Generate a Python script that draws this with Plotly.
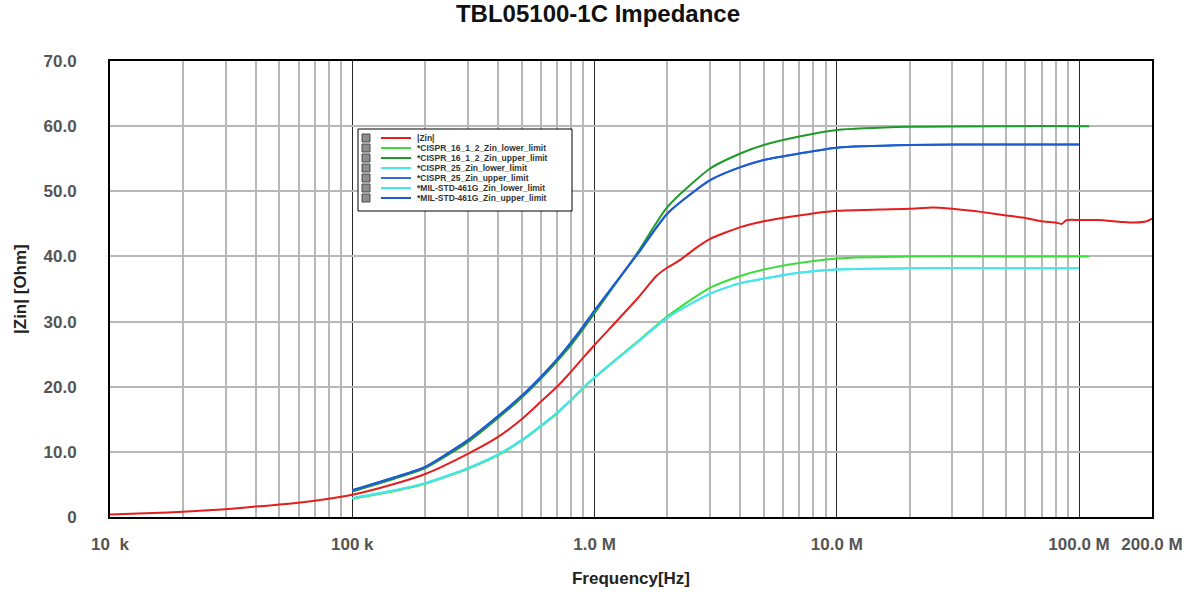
import plotly.graph_objects as go

# ---------------- data ----------------
freq_zin = [1e4, 1.5e4, 2e4, 3e4, 4e4, 5e4, 6e4, 7e4, 8e4, 9e4, 1e5, 1.5e5, 2e5, 3e5, 4e5,
            5e5, 6e5, 7e5, 8e5, 9e5, 1e6, 1.5e6, 1.8e6, 2e6, 2.2e6, 2.4e6, 2.6e6, 3e6, 4e6,
            5e6, 7e6, 1e7, 1.5e7, 2e7, 2.5e7, 3e7, 4e7, 5e7, 6e7, 7e7, 8e7, 8.5e7, 8.8e7,
            9e7, 1e8, 1.2e8, 1.5e8, 1.7e8, 1.9e8, 2e8]
zin = [0.4, 0.6, 0.8, 1.2, 1.6, 1.9, 2.2, 2.5, 2.8, 3.1, 3.4, 5.1, 6.6, 9.7, 12.3,
       15.0, 17.7, 20.0, 22.3, 24.5, 26.4, 33.5, 37.0, 38.3, 39.2, 40.2, 41.2, 42.7, 44.5,
       45.4, 46.3, 47.0, 47.2, 47.3, 47.5, 47.3, 46.8, 46.3, 45.9, 45.4, 45.2, 45.0, 45.5,
       45.6, 45.6, 45.6, 45.3, 45.2, 45.4, 45.8]

freq_cispr16 = [1e5, 1.5e5, 2e5, 3e5, 4e5, 5e5, 6e5, 7e5, 8e5, 9e5, 1e6, 1.5e6, 2e6, 3e6,
                4e6, 5e6, 7e6, 1e7, 2e7, 5e7, 1e8, 1.1e8]
cispr16_lower = [2.8, 4.0, 5.1, 7.4, 9.5, 11.7, 13.9, 15.9, 17.9, 19.8, 21.4, 26.9, 30.8, 35.2,
                 37.0, 38.0, 39.0, 39.7, 40.0, 40.0, 40.0, 40.0]
cispr16_upper = [3.9, 5.9, 7.5, 11.5, 15.2, 18.3, 21.2, 23.9, 26.4, 28.9, 31.3, 40.5, 47.6, 53.5,
                 55.8, 57.1, 58.4, 59.4, 59.9, 60.0, 60.0, 60.0]

freq_cispr25 = [1e5, 1.5e5, 2e5, 3e5, 4e5, 5e5, 6e5, 7e5, 8e5, 9e5, 1e6, 1.5e6, 2e6, 3e6,
                4e6, 5e6, 7e6, 1e7, 2e7, 5e7, 1e8]
cispr25_lower = [2.9, 4.1, 5.2, 7.5, 9.6, 11.8, 14.0, 16.0, 18.0, 19.9, 21.4, 26.8, 30.6, 34.3,
                 35.9, 36.6, 37.5, 38.0, 38.2, 38.2, 38.2]
cispr25_upper = [4.1, 6.1, 7.7, 11.8, 15.5, 18.6, 21.5, 24.2, 26.8, 29.3, 31.7, 40.3, 46.6, 51.7,
                 53.7, 54.8, 55.8, 56.7, 57.1, 57.2, 57.2]

freq_mil = [1e5, 1.5e5, 2e5, 3e5, 4e5, 5e5, 6e5, 7e5, 8e5, 9e5, 1e6, 1.5e6, 2e6, 3e6,
            4e6, 5e6, 7e6, 1e7, 2e7, 5e7, 1e8]
mil_lower = [2.9, 4.1, 5.2, 7.5, 9.6, 11.8, 14.0, 16.0, 18.0, 19.9, 21.4, 26.8, 30.6, 34.3,
             35.9, 36.6, 37.5, 38.0, 38.2, 38.2, 38.2]
mil_upper = [4.1, 6.1, 7.7, 11.8, 15.5, 18.6, 21.5, 24.2, 26.8, 29.3, 31.7, 40.3, 46.6, 51.7,
             53.7, 54.8, 55.8, 56.7, 57.1, 57.2, 57.2]

series_names = ["|Zin|", "*CISPR_16_1_2_Zin_lower_limit", "*CISPR_16_1_2_Zin_upper_limit",
                "*CISPR_25_Zin_lower_limit", "*CISPR_25_Zin_upper_limit",
                "*MIL-STD-461G_Zin_lower_limit", "*MIL-STD-461G_Zin_upper_limit"]
series_colors = ["#e41e1e", "#3ddc3d", "#1f9a2a", "#45e6ea", "#2f6fe0", "#45e6ea", "#1d5bd0"]

x_tickvals = [1e4, 1e5, 1e6, 1e7, 1e8, 2e8]
x_ticktext = ["10\u00a0\u00a0k", "100 k", "1.0 M", "10.0 M", "100.0 M", "200.0 M"]
y_tickvals = [0, 10, 20, 30, 40, 50, 60, 70]
y_ticktext = ["0", "10.0", "20.0", "30.0", "40.0", "50.0", "60.0", "70.0"]

# ---------------- figure ----------------
W, H = 1196, 592
L, R, T, B = 110, 44, 61, 75
FONT = "Liberation Sans, Arial, sans-serif"

series = [(freq_zin, zin), (freq_cispr16, cispr16_lower), (freq_cispr16, cispr16_upper),
          (freq_cispr25, cispr25_lower), (freq_cispr25, cispr25_upper),
          (freq_mil, mil_lower), (freq_mil, mil_upper)]

fig = go.Figure()
for (fx, fy), name, col in zip(series, series_names, series_colors):
    fig.add_trace(go.Scatter(x=fx, y=fy, name=name, mode="lines",
                             line=dict(color=col, width=2, shape="spline", smoothing=0.6),
                             showlegend=False))

minor_vals = [m * 10 ** d for d in range(4, 9) for m in range(2, 10) if m * 10 ** d < 2e8]

fig.update_layout(
    width=W, height=H,
    margin=dict(l=L, r=R, t=T, b=B, autoexpand=False),
    paper_bgcolor="white", plot_bgcolor="white",
    font=dict(family=FONT),
    title=dict(text="TBL05100-1C Impedance", x=0.5, xanchor="center",
               y=1 - 14 / H, yanchor="middle",
               font=dict(size=24, color="#111111", family=FONT, weight="bold")),
    xaxis=dict(type="log", range=[4, 8.30103], tickvals=x_tickvals, ticktext=x_ticktext,
               showgrid=True, gridcolor="#2a2a2a", gridwidth=1,
               minor=dict(tickvals=minor_vals, showgrid=True, gridcolor="#b8b8b8", gridwidth=1.5),
               showline=True, linecolor="black", linewidth=2, mirror=True,
               ticks="", ticklabelstandoff=11, zeroline=False,
               tickfont=dict(size=17, color="#555555", family=FONT, weight="bold"),
               title=dict(text="Frequency[Hz]", standoff=19,
                          font=dict(size=17, color="#222222", family=FONT, weight="bold"))),
    yaxis=dict(range=[0, 70], tickvals=y_tickvals, ticktext=y_ticktext,
               showgrid=True, gridcolor="#b8b8b8", gridwidth=1.5,
               showline=True, linecolor="black", linewidth=2, mirror=True,
               ticks="", ticklabelstandoff=28, zeroline=False,
               tickfont=dict(size=17, color="#555555", family=FONT, weight="bold")),
)

# ---------------- paper coords from page-pixel positions ----------------
pw, ph = W - L - R, H - T - B


def px2x(px):
    return (px - L) / pw


def py2y(py):
    return (H - B - py) / ph


# y-axis title
fig.add_annotation(xref="paper", yref="paper", x=px2x(20), y=0.5, textangle=-90,
                   xanchor="center", yanchor="middle", showarrow=False, text="|Zin| [Ohm]",
                   font=dict(size=17, color="#222222", family=FONT, weight="bold"))

# custom legend
fig.add_shape(type="rect", xref="paper", yref="paper",
              x0=px2x(358), x1=px2x(572), y0=py2y(211), y1=py2y(129),
              fillcolor="white", line=dict(color="black", width=1), layer="above")
row0, dy = 138, 10
for i, (name, col) in enumerate(zip(series_names, series_colors)):
    yc = row0 + dy * i
    fig.add_shape(type="rect", xref="paper", yref="paper",
                  x0=px2x(362), x1=px2x(370), y0=py2y(yc + 4), y1=py2y(yc - 4),
                  fillcolor="#8e8e8e", line=dict(color="#4a4a4a", width=1), layer="above")
    fig.add_shape(type="line", xref="paper", yref="paper",
                  x0=px2x(381), x1=px2x(411), y0=py2y(yc), y1=py2y(yc),
                  line=dict(color=col, width=2), layer="above")
    fig.add_annotation(xref="paper", yref="paper", x=px2x(415), y=py2y(yc),
                       xanchor="left", yanchor="middle", showarrow=False, text=name,
                       font=dict(size=8.5, color="#333333", family=FONT, weight="bold"))

fig.write_html("out.html", config={"displayModeBar": False},
               post_script="document.body.style.margin='0';")
